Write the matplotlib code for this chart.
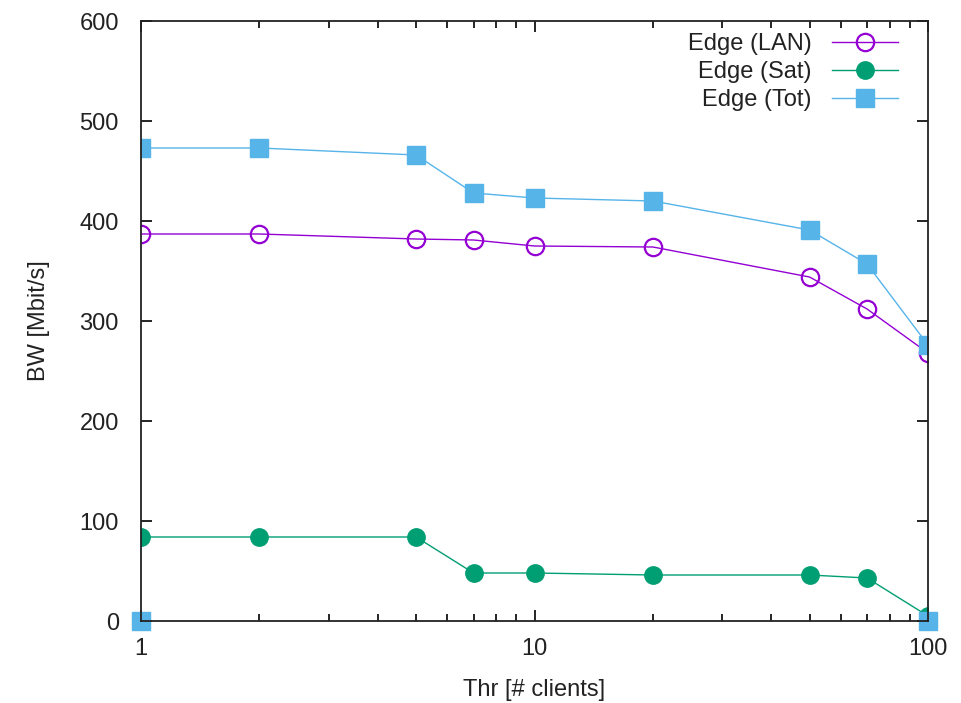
import matplotlib
matplotlib.use("Agg")
import matplotlib.pyplot as plt
from matplotlib.ticker import LogLocator, NullFormatter, FixedLocator

plt.rcParams['font.family'] = ['Liberation Sans', 'DejaVu Sans']

thr = [1, 2, 5, 7, 10, 20, 50, 70, 100]
bw_lan = [387, 387, 382, 381, 375, 374, 344, 312, 268]
bw_sat = [84, 84, 84, 48, 48, 46, 46, 43, 5]
bw_tot = [473, 473, 466, 428, 423, 420, 391, 357, 276]
# stray Tot points sitting on the x axis
tot_zero_x = [1, 100]
tot_zero_y = [0, 0]

c_lan = '#9400D3'
c_sat = '#009E73'
c_tot = '#56B4E9'

fig = plt.figure(figsize=(9.62, 7.03), dpi=100)
ax = fig.add_axes([141/962, 1-621/703, (928-141)/962, 600/703])

ax.plot(thr, bw_lan, color=c_lan, lw=1.0, marker='o', ms=12.5, mfc='none',
        mec=c_lan, mew=1.6, label='Edge (LAN)')
ax.plot(thr, bw_sat, color=c_sat, lw=1.0, marker='o', ms=12.5, mfc=c_sat,
        mec=c_sat, label='Edge (Sat)')
ax.plot(thr, bw_tot, color=c_tot, lw=1.0, marker='s', ms=13, mfc=c_tot,
        mec=c_tot, label='Edge (Tot)')
ax.plot(tot_zero_x, tot_zero_y, ls='none', marker='s', ms=13, color=c_tot,
        clip_on=False)

ax.set_xscale('log')
ax.set_xlim(1, 100)
ax.set_ylim(0, 600)
ax.xaxis.set_major_locator(FixedLocator([1, 10, 100]))
ax.set_xticklabels(['1', '10', '100'])
ax.xaxis.set_minor_locator(LogLocator(base=10, subs=range(2, 10)))
ax.xaxis.set_minor_formatter(NullFormatter())
ax.set_yticks(range(0, 601, 100))

ax.tick_params(which='both', direction='in', top=True, right=True,
               labelsize=17, width=1.2, labelcolor='#222222')
ax.tick_params(axis='x', pad=12)
ax.tick_params(axis='y', pad=16)
ax.tick_params(which='major', length=8)
ax.tick_params(which='minor', length=5)
for s in ax.spines.values():
    s.set_linewidth(1.3)
    s.set_color('#222222')

ax.set_xlabel('Thr [# clients]', fontsize=17, labelpad=14, color='#222222')
ax.set_ylabel('BW [Mbit/s]', fontsize=17, labelpad=21, color='#222222')

leg = ax.legend(loc='upper right', frameon=False, markerfirst=False, fontsize=17,
                handlelength=2.8, labelspacing=0.25, borderaxespad=0, borderpad=0,
                handletextpad=0.85, bbox_to_anchor=(0.962, 0.98))
for t in leg.get_texts():
    t.set_color('#222222')

fig.savefig('out.png', dpi=100)
